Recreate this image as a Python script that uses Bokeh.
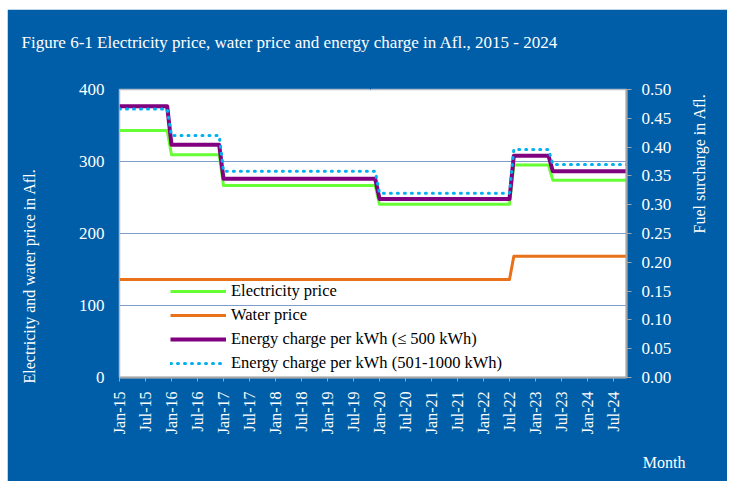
import math
from bokeh.plotting import figure
from bokeh.models import (Range1d, LinearAxis, FixedTicker, NumeralTickFormatter,
                          Legend, LegendItem, Title)
from bokeh.embed import file_html
from bokeh.resources import INLINE

# ---------------- data ----------------
months = list(range(118))  # Jan-15 (0) .. Oct-24 (117)
xtick_pos = [0, 6, 12, 18, 24, 30, 36, 42, 48, 54, 60, 66, 72, 78, 84, 90, 96, 102, 108, 114]
xtick_labels = ["Jan-15", "Jul-15", "Jan-16", "Jul-16", "Jan-17", "Jul-17", "Jan-18", "Jul-18",
                "Jan-19", "Jul-19", "Jan-20", "Jul-20", "Jan-21", "Jul-21", "Jan-22", "Jul-22",
                "Jan-23", "Jul-23", "Jan-24", "Jul-24"]
left_ticks = [0, 100, 200, 300, 400]
fuel_ticks = [0.0, 0.05, 0.10, 0.15, 0.20, 0.25, 0.30, 0.35, 0.40, 0.45, 0.50]

# monthly values (levels)
electricity = [343.0] * 12 + [309.5] * 12 + [266.5] * 36 + [240.5] * 31 + [295.0] * 9 + [274.0] * 18
water = [136.0] * 91 + [168.5] * 27
energy_500 = [0.471] * 12 + [0.404] * 12 + [0.345] * 36 + [0.310] * 31 + [0.385] * 9 + [0.358] * 18
energy_1000 = [0.466] * 12 + [0.420] * 12 + [0.358] * 36 + [0.320] * 31 + [0.396] * 9 + [0.370] * 18

# ---------------- style ----------------
BLUE = "#005EA8"
FONT = "Liberation Serif"

p = figure(width=720, height=472, output_backend="svg", toolbar_location=None,
           x_range=Range1d(0, 117), y_range=Range1d(0, 400),
           min_border_left=112, min_border_right=101, min_border_top=80, min_border_bottom=104,
           background_fill_color="white", border_fill_color=BLUE,
           outline_line_color="#B4BCCB", outline_line_width=1.5)
p.margin = (9, 5, 7, 7)
p.extra_y_ranges = {"fuel": Range1d(0, 0.5)}


def spacer(n, tick, **kw):
    # blank axis (one invisible tick, empty label) that only reserves n pixels in a side panel
    return LinearAxis(ticker=FixedTicker(ticks=[tick]), major_label_overrides={tick: ""},
                      major_tick_out=n, major_tick_in=0, minor_tick_out=0, minor_tick_in=0,
                      axis_line_color=None, major_tick_line_color=BLUE, major_tick_line_alpha=1,
                      minor_tick_line_color=None, major_label_standoff=0,
                      major_label_text_font_size="1px", major_label_text_color=BLUE,
                      axis_label_standoff=0, **kw)


# left axis
ya = p.yaxis[0]
ya.ticker = FixedTicker(ticks=left_ticks)
ya.major_tick_out = 0
ya.major_tick_in = 0
ya.minor_tick_out = 0
ya.minor_tick_in = 0
ya.axis_line_color = None
ya.major_label_standoff = 15
ya.major_label_text_color = "white"
ya.major_label_text_font = FONT
ya.major_label_text_font_size = "17px"

# bottom axis
xa = p.xaxis[0]
xa.ticker = FixedTicker(ticks=xtick_pos)
xa.major_label_overrides = {pos: lab for pos, lab in zip(xtick_pos, xtick_labels)}
xa.major_label_orientation = math.pi / 2
xa.major_tick_out = 4
xa.major_tick_in = 0
xa.minor_tick_out = 0
xa.minor_tick_in = 0
xa.major_tick_line_color = "#A6A6A6"
xa.axis_line_color = "#A6A6A6"
xa.axis_line_width = 2
xa.major_label_standoff = 10
xa.major_label_text_color = "white"
xa.major_label_text_font = FONT
xa.major_label_text_font_size = "16px"

# right axis (fuel surcharge)
ra = LinearAxis(y_range_name="fuel", ticker=FixedTicker(ticks=fuel_ticks),
                formatter=NumeralTickFormatter(format="0.00"))
ra.major_tick_out = 5
ra.major_tick_in = 0
ra.minor_tick_out = 0
ra.minor_tick_in = 0
ra.major_tick_line_color = "#A6A6A6"
ra.axis_line_color = "#A6A6A6"
ra.axis_line_width = 2
ra.major_label_standoff = 10
ra.major_label_text_color = "white"
ra.major_label_text_font = FONT
ra.major_label_text_font_size = "17px"
p.add_layout(ra, "right")

# blank companion axis that carries the right-hand title, reading bottom to top
rl = spacer(21, 0.1, y_range_name="fuel", bounds=(0.0, 0.295))
rl.axis_label = "Fuel surcharge in Afl."
rl.axis_label_text_color = "white"
rl.axis_label_text_font = FONT
rl.axis_label_text_font_style = "normal"
rl.axis_label_text_font_size = "16px"
rl.axis_label_standoff = 4
try:
    rl.axis_label_orientation = math.pi / 2
except Exception:
    pass
p.add_layout(rl, "right")

p.xgrid.visible = False
p.ygrid.grid_line_color = "#7F9DC9"
p.ygrid.grid_line_width = 1.2

# ---------------- lines ----------------
r_el = p.line(months, electricity, line_color="#66FF33", line_width=3, line_join="round")
r_wa = p.line(months, water, line_color="#E8711A", line_width=3, line_join="round")
r_e5 = p.line(months, energy_500, y_range_name="fuel", line_color="#800080", line_width=4,
              line_join="round")
r_e10 = p.line(months, energy_1000, y_range_name="fuel", line_color="#00B0F0", line_width=3,
               line_dash="1 6", line_cap="round")

legend = Legend(items=[
    LegendItem(label="Electricity price", renderers=[r_el]),
    LegendItem(label="Water price", renderers=[r_wa]),
    LegendItem(label="Energy charge per kWh (\u2264 500 kWh)", renderers=[r_e5]),
    LegendItem(label="Energy charge per kWh (501-1000 kWh)", renderers=[r_e10]),
], location=(51, 2), padding=0, margin=0, spacing=0, glyph_width=56, glyph_height=24,
    label_height=24, label_standoff=5, background_fill_alpha=0, border_line_alpha=0,
    label_text_font=FONT, label_text_font_size="16.5px", label_text_color="black")
p.add_layout(legend, "center")

# ---------------- titles (outside the frame) ----------------
p.add_layout(spacer(38, 58), "above")
p.add_layout(Title(text="Figure 6-1 Electricity price, water price and energy charge in Afl., 2015 - 2024",
                   align="left", offset=-98, vertical_align="bottom", standoff=0,
                   text_color="white", text_font=FONT, text_font_size="17px",
                   text_font_style="normal"), "above")

p.add_layout(spacer(38, 200), "left")
p.add_layout(Title(text="Electricity and water price in Afl.", align="left", offset=-6,
                   vertical_align="bottom", standoff=0, text_color="white", text_font=FONT,
                   text_font_size="16px", text_font_style="normal"), "left")

p.add_layout(spacer(16, 58), "below")
p.add_layout(Title(text="Month", align="right", offset=-59, vertical_align="top", standoff=0,
                   text_color="white", text_font=FONT, text_font_size="16px",
                   text_font_style="normal"), "below")

open("out.html", "w").write(file_html(p, INLINE))
